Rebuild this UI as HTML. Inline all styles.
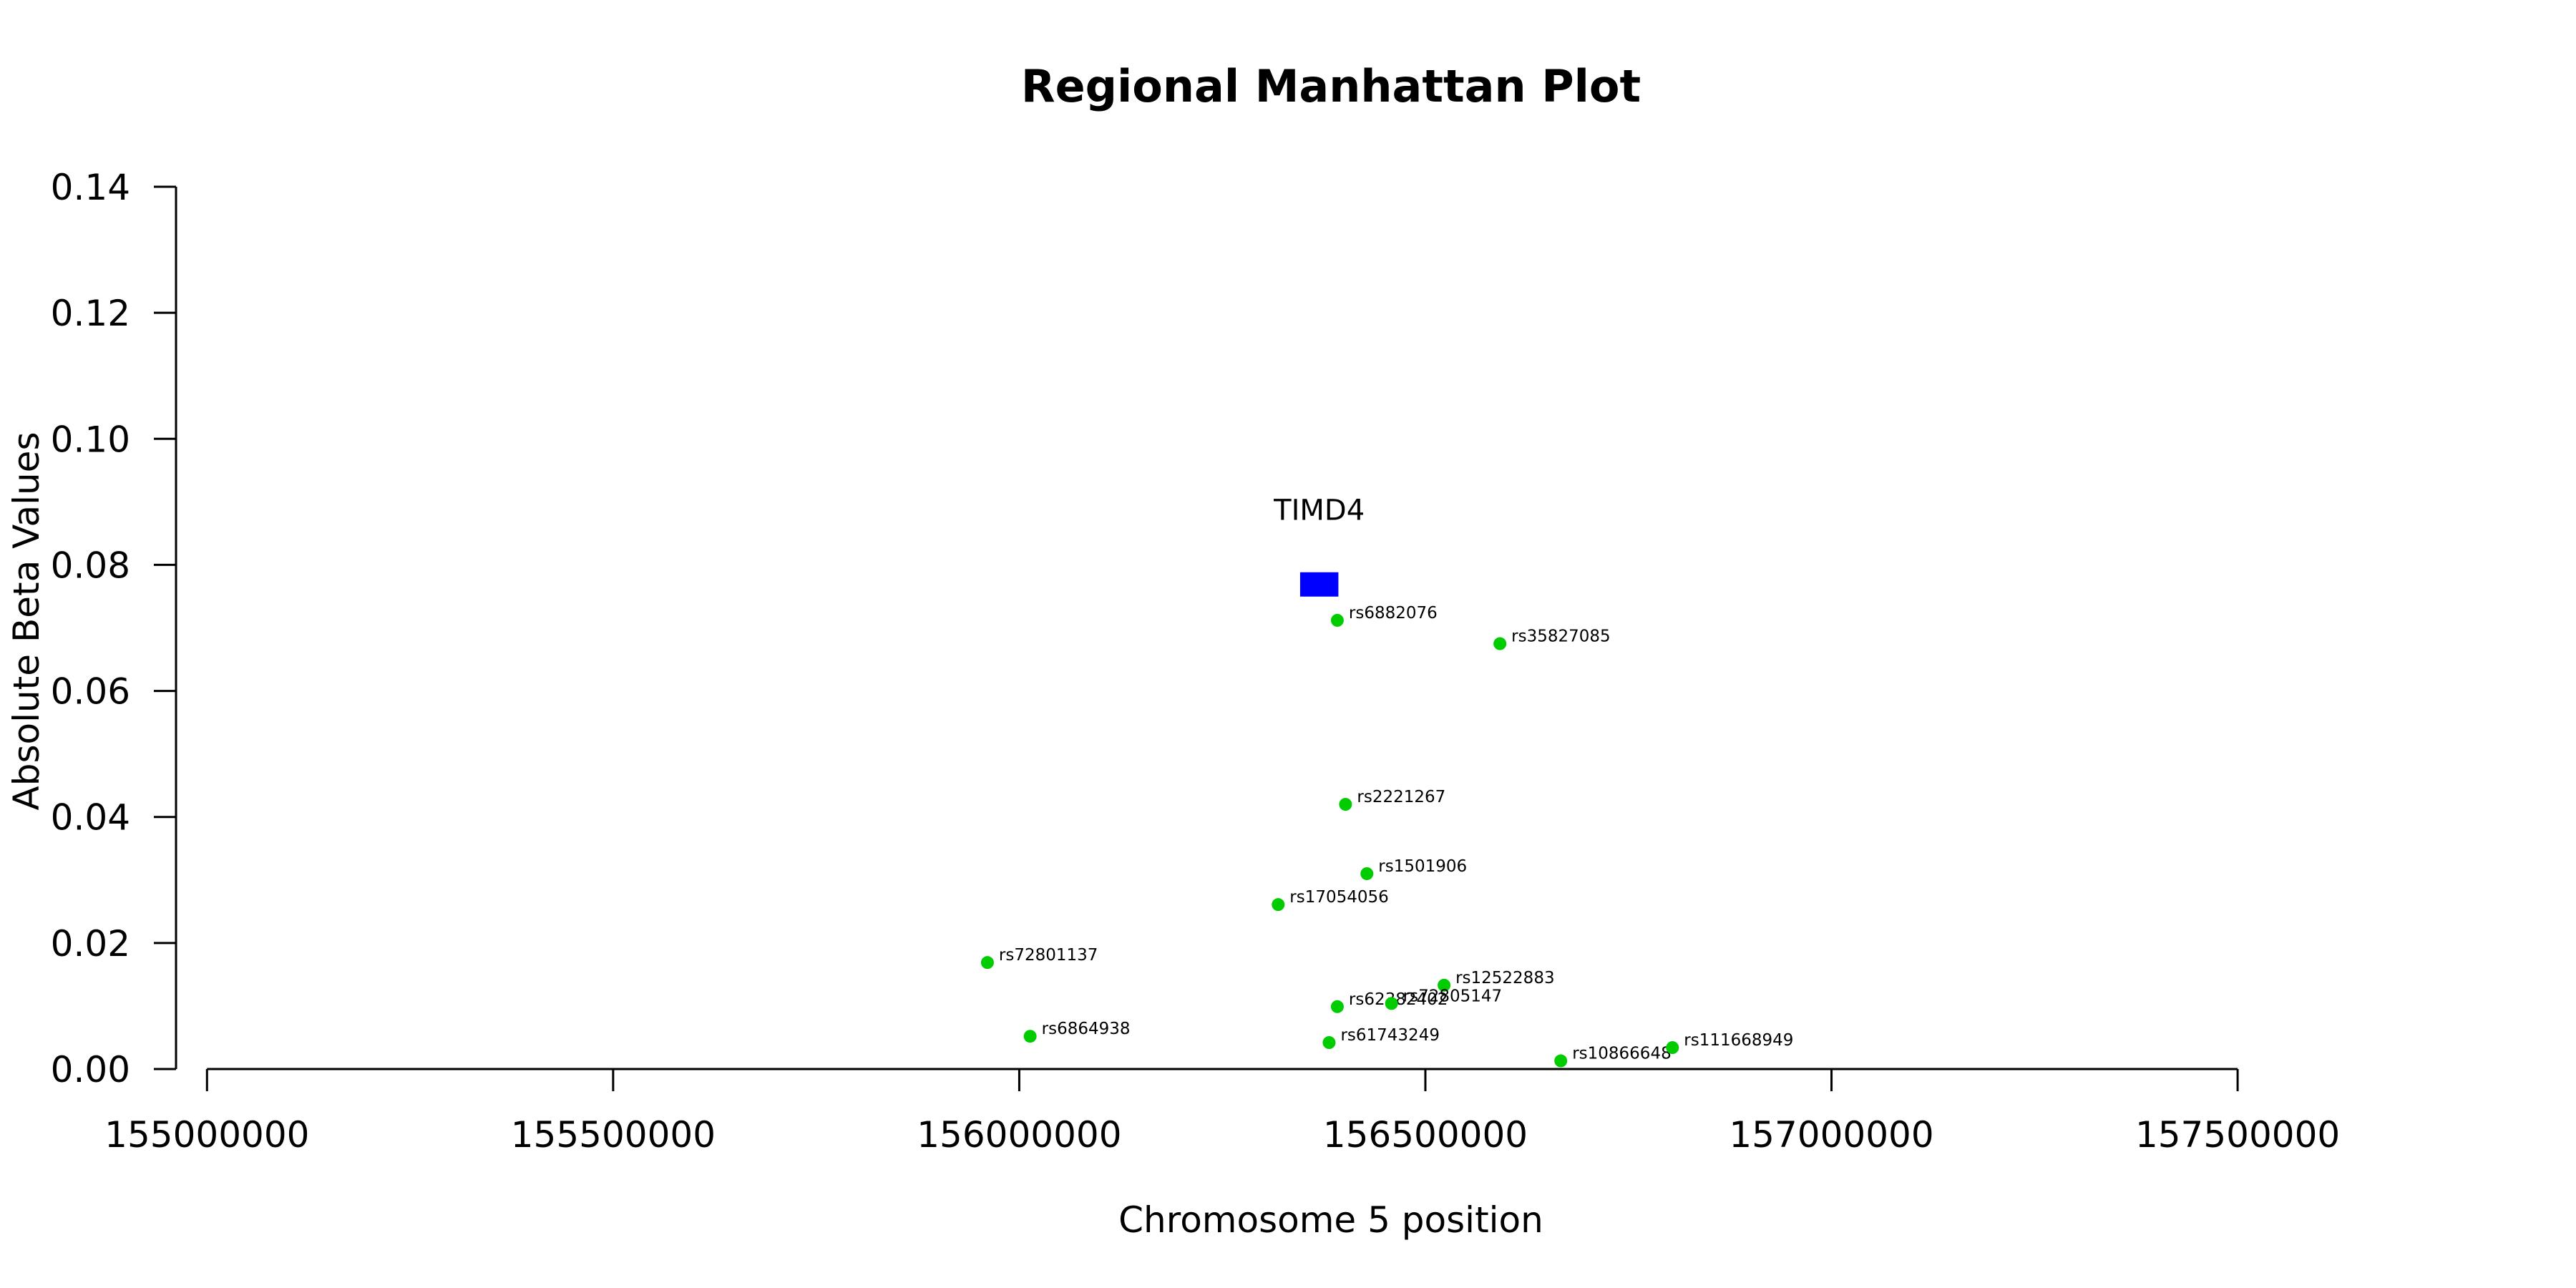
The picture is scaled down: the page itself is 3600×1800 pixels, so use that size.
<!DOCTYPE html>
<html><head><meta charset="utf-8"><style>
html,body{margin:0;padding:0;background:#fff}
svg{display:block;font-family:"DejaVu Sans","Liberation Sans",sans-serif}
</style></head><body>
<svg id="chart" width="3600" height="1800" viewBox="0 0 3600 1800" xmlns="http://www.w3.org/2000/svg">
<text x="1860" y="142" font-size="62" font-weight="bold" text-anchor="middle">Regional Manhattan Plot</text>
<text transform="translate(54,868) rotate(-90)" font-size="50" text-anchor="middle">Absolute Beta Values</text>
<text x="1860" y="1722" font-size="50" text-anchor="middle">Chromosome 5 position</text>
<g id="axes"></g>
<g id="marks"></g>
</svg>
<script>
const snpIds = ["rs6882076","rs35827085","rs2221267","rs1501906","rs17054056","rs72801137","rs12522883","rs62382402","rs72805147","rs6864938","rs61743249","rs10866648","rs111668949"];
const snpPositions = [156391600,156591800,156401700,156428000,156318800,155960800,156523000,156391600,156458300,156013400,156381500,156666700,156804200];
const snpBetas = [0.0712,0.0675,0.0420,0.0310,0.0261,0.0169,0.0133,0.0099,0.0104,0.0052,0.0042,0.0013,0.0034];
const geneNames = ["TIMD4"];
const geneStarts = [156345800];
const geneEnds = [156392900];
const geneBetas = [0.0769];
const xTicks = [155000000,155500000,156000000,156500000,157000000,157500000];
const yTicks = [0.00,0.02,0.04,0.06,0.08,0.10,0.12,0.14];

const NS="http://www.w3.org/2000/svg";
const xMin=155000000,xMax=157500000,px0=289.3,px1=3127.1;
const yMin=0,yMax=0.14,py0=1494,py1=261;
function xs(v){return px0+(v-xMin)/(xMax-xMin)*(px1-px0);}
function ys(v){return py0-(v-yMin)/(yMax-yMin)*(py0-py1);}
function mk(tag,attrs,parent){const e=document.createElementNS(NS,tag);for(const k in attrs)e.setAttribute(k,attrs[k]);parent.appendChild(e);return e;}
const axes=document.getElementById('axes'),marks=document.getElementById('marks');

let yl=mk('line',{x1:246,x2:246,y1:ys(yMax),y2:ys(yMin),stroke:'#000','stroke-width':3},axes);


yTicks.forEach(t=>{
  let l=mk('line',{x1:215,x2:246,y1:ys(t),y2:ys(t),stroke:'#000','stroke-width':3},axes);
  
  
  let tx=mk('text',{x:182,y:ys(t)+18,'font-size':50,'text-anchor':'end'},axes);
  tx.textContent=t.toFixed(2);
  
  
});
let xl=mk('line',{x1:xs(xMin),x2:xs(xMax),y1:1494,y2:1494,stroke:'#000','stroke-width':3},axes);


xTicks.forEach(t=>{
  let l=mk('line',{x1:xs(t),x2:xs(t),y1:1494,y2:1525,stroke:'#000','stroke-width':3},axes);
  
  
  let tx=mk('text',{x:xs(t),y:1603,'font-size':50,'text-anchor':'middle'},axes);
  tx.textContent=String(t);
  
  
});
geneNames.forEach((g,i)=>{
  const x0=xs(geneStarts[i]),x1=xs(geneEnds[i]),yc=ys(geneBetas[i]);
  let r=mk('rect',{x:x0,y:yc-17,width:x1-x0,height:34,fill:'#0000ff'},marks);
  
  
  let t=mk('text',{x:(x0+x1)/2,y:yc-90,'font-size':40,'text-anchor':'middle'},marks);
  t.textContent=g;
  
  
});
snpIds.forEach((id,i)=>{
  const cx=xs(snpPositions[i]),cy=ys(snpBetas[i]);
  let c=mk('circle',{cx:cx,cy:cy,r:9,fill:'#00cc00'},marks);
  
  
  let t=mk('text',{x:cx+16,y:cy-3,'font-size':23},marks);
  t.textContent=id;
  
  
});
</script>
</body></html>
